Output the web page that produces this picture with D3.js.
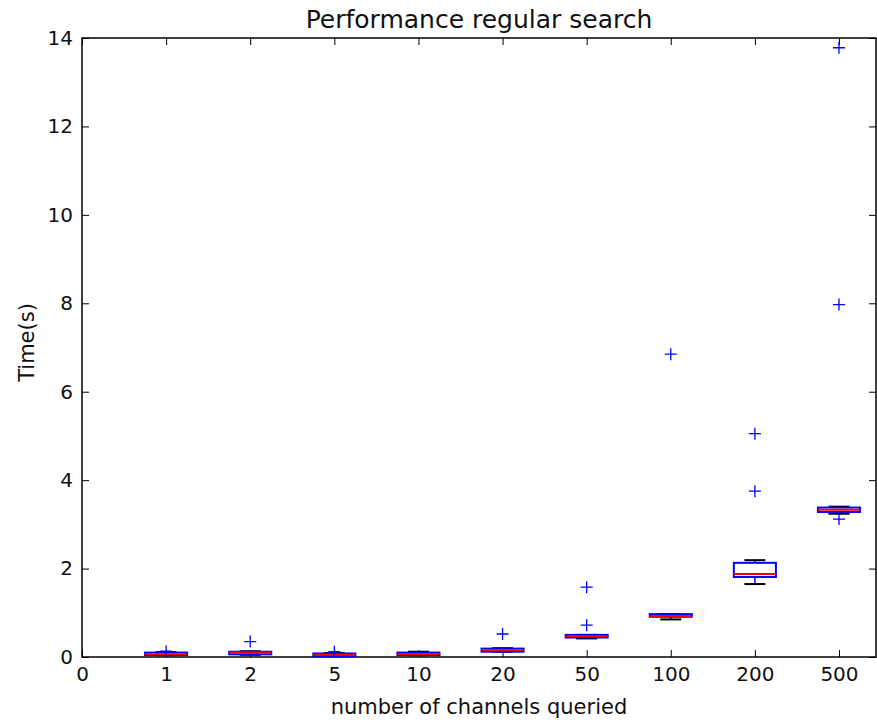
<!DOCTYPE html>
<html>
<head>
<meta charset="utf-8">
<script src="https://cdn.jsdelivr.net/npm/d3@7"></script>
<style>
  body { margin: 0; background: #fff; }
  text { font-family: "DejaVu Sans", sans-serif; fill: #111; }
</style>
</head>
<body>
<div id="wrapper"></div>
<script>
// data
const categories = ["1", "2", "5", "10", "20", "50", "100", "200", "500"];
const whiskerLow = [0.04, 0.05, 0.02, 0.04, 0.12, 0.42, 0.85, 1.65, 3.24];
const q1 = [0.045, 0.06, 0.02, 0.045, 0.12, 0.44, 0.91, 1.81, 3.28];
const medians = [0.06, 0.1, 0.05, 0.07, 0.15, 0.47, 0.93, 1.88, 3.33];
const q3 = [0.1, 0.12, 0.08, 0.1, 0.19, 0.5, 0.97, 2.13, 3.38];
const whiskerHigh = [0.11, 0.13, 0.09, 0.12, 0.2, 0.5, 0.97, 2.19, 3.4];
const fliers = [[0.13], [0.35], [0.12], [], [0.52], [0.72, 1.58], [6.85], [3.75, 5.05], [3.12, 7.97, 13.78]];
const yTicks = [0, 2, 4, 6, 8, 10, 12, 14];

function drawChart() {
  const dimensions = {
    width: 877,
    height: 722,
    margin: { top: 38, right: 1, bottom: 65, left: 82 },
  };
  dimensions.boundedWidth = dimensions.width - dimensions.margin.left - dimensions.margin.right;
  dimensions.boundedHeight = dimensions.height - dimensions.margin.top - dimensions.margin.bottom;

  const svg = d3.select("#wrapper")
    .append("svg")
    .attr("width", dimensions.width)
    .attr("height", dimensions.height);

  const bounds = svg.append("g")
    .attr("transform", `translate(${dimensions.margin.left},${dimensions.margin.top})`);

  // scales
  const xScale = d3.scaleLinear()
    .domain([0, 9.44])
    .range([0, dimensions.boundedWidth]);
  const yScale = d3.scaleLinear()
    .domain([0, 14])
    .range([dimensions.boundedHeight, 0]);

  const boxes = categories.map((c, i) => ({
    pos: i + 1,
    lo: whiskerLow[i], q1: q1[i], med: medians[i], q3: q3[i], hi: whiskerHigh[i],
    fliers: fliers[i],
  }));
  const halfW = xScale(0.25) - xScale(0);
  const capW = xScale(0.125) - xScale(0);

  // axes: ticks point inward, on all four sides
  const xTickValues = [0].concat(boxes.map((d) => d.pos));
  const xLabels = ["0"].concat(categories);

  const xAxis = bounds.append("g")
    .attr("transform", `translate(0,${dimensions.boundedHeight})`)
    .call(d3.axisBottom(xScale).tickValues(xTickValues)
      .tickFormat((d, i) => xLabels[i]).tickSize(-7).tickPadding(10).tickSizeOuter(0));
  const xAxisTop = bounds.append("g")
    .call(d3.axisTop(xScale).tickValues(xTickValues).tickFormat("").tickSize(-7).tickSizeOuter(0));
  const yAxis = bounds.append("g")
    .call(d3.axisLeft(yScale).tickValues(yTicks).tickSize(-7).tickPadding(9).tickSizeOuter(0));
  const yAxisRight = bounds.append("g")
    .attr("transform", `translate(${dimensions.boundedWidth},0)`)
    .call(d3.axisRight(yScale).tickValues(yTicks).tickFormat("").tickSize(-7).tickSizeOuter(0));

  [xAxis, xAxisTop, yAxis, yAxisRight].forEach((a) => {
    a.select(".domain").remove();
    a.selectAll(".tick line").attr("stroke", "#000").attr("stroke-width", 1);
    a.selectAll(".tick text")
      .style("font-size", "20px")
      .style("font-family", "DejaVu Sans")
      .attr("fill", "#111");
  });

  // frame
  bounds.append("rect")
    .attr("width", dimensions.boundedWidth)
    .attr("height", dimensions.boundedHeight)
    .attr("fill", "none")
    .attr("stroke", "#000")
    .attr("stroke-width", 1.5);

  // boxes
  const g = bounds.append("g").selectAll("g").data(boxes).join("g");

  // whiskers (blue), caps (black)
  g.append("line")
    .attr("x1", (d) => xScale(d.pos)).attr("x2", (d) => xScale(d.pos))
    .attr("y1", (d) => yScale(d.lo)).attr("y2", (d) => yScale(d.q1))
    .attr("stroke", "blue").attr("stroke-width", 1.5);
  g.append("line")
    .attr("x1", (d) => xScale(d.pos)).attr("x2", (d) => xScale(d.pos))
    .attr("y1", (d) => yScale(d.q3)).attr("y2", (d) => yScale(d.hi))
    .attr("stroke", "blue").attr("stroke-width", 1.5);
  g.append("line")
    .attr("x1", (d) => xScale(d.pos) - capW).attr("x2", (d) => xScale(d.pos) + capW)
    .attr("y1", (d) => yScale(d.lo)).attr("y2", (d) => yScale(d.lo))
    .attr("stroke", "#000").attr("stroke-width", 2);
  g.append("line")
    .attr("x1", (d) => xScale(d.pos) - capW).attr("x2", (d) => xScale(d.pos) + capW)
    .attr("y1", (d) => yScale(d.hi)).attr("y2", (d) => yScale(d.hi))
    .attr("stroke", "#000").attr("stroke-width", 2);

  g.append("rect")
    .attr("x", (d) => xScale(d.pos) - halfW)
    .attr("width", halfW * 2)
    .attr("y", (d) => yScale(d.q3))
    .attr("height", (d) => Math.max(0, yScale(d.q1) - yScale(d.q3)))
    .attr("fill", "none")
    .attr("stroke", "blue")
    .attr("stroke-width", 2);

  g.append("line")
    .attr("x1", (d) => xScale(d.pos) - halfW).attr("x2", (d) => xScale(d.pos) + halfW)
    .attr("y1", (d) => yScale(d.med)).attr("y2", (d) => yScale(d.med))
    .attr("stroke", "red").attr("stroke-width", 2);

  // fliers as blue "+"
  const fl = bounds.append("g");
  boxes.forEach((b) => {
    b.fliers.forEach((v) => {
      fl.append("path")
        .attr("d", `M${xScale(b.pos) - 6},${yScale(v)}H${xScale(b.pos) + 6}M${xScale(b.pos)},${yScale(v) - 6}V${yScale(v) + 6}`)
        .attr("stroke", "blue")
        .attr("stroke-width", 1.3)
        .attr("fill", "none");
    });
  });

  // labels
  svg.append("text")
    .attr("x", dimensions.margin.left + dimensions.boundedWidth / 2)
    .attr("y", 28)
    .style("text-anchor", "middle")
    .style("font-size", "25px")
    .text("Performance regular search");

  svg.append("text")
    .attr("x", dimensions.margin.left + dimensions.boundedWidth / 2)
    .attr("y", 714)
    .style("text-anchor", "middle")
    .style("font-size", "21px")
    .text("number of channels queried");

  svg.append("text")
    .attr("transform", `translate(34,${dimensions.margin.top + dimensions.boundedHeight / 2 - 5}) rotate(-90)`)
    .style("text-anchor", "middle")
    .style("font-size", "21px")
    .text("Time(s)");
}

drawChart();
</script>
</body>
</html>
